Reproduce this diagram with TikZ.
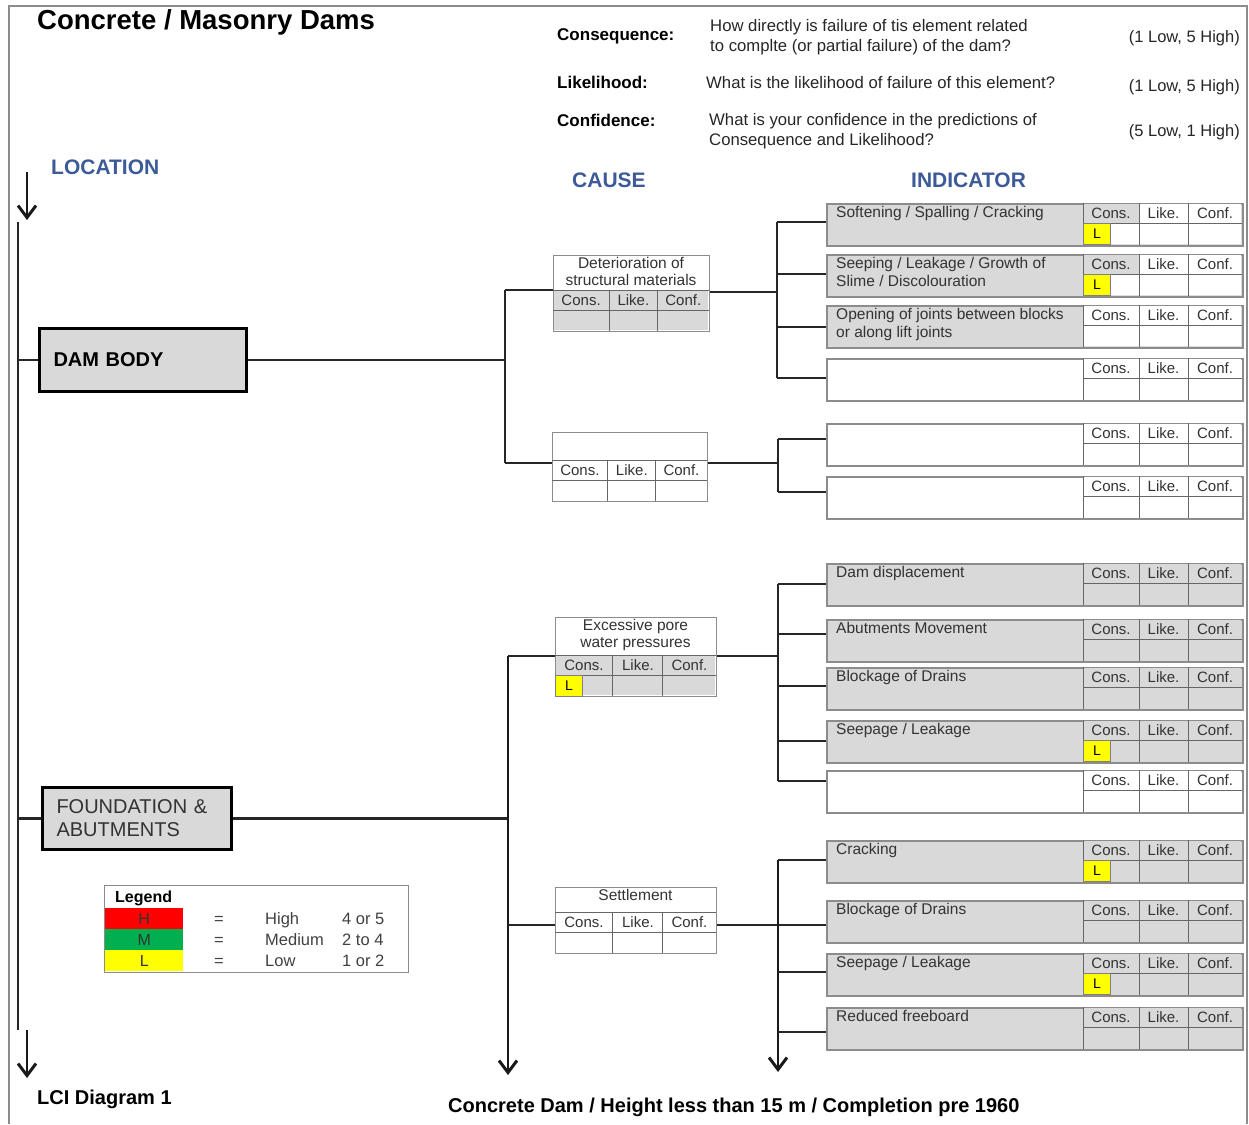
\documentclass[tikz,border=0pt]{standalone}
\usepackage{fontspec}
\setmainfont{Liberation Sans}
\usetikzlibrary{arrows.meta,positioning,calc}

\definecolor{boxgray}{HTML}{D9D9D9}
\definecolor{headblue}{HTML}{3D5A98}
\definecolor{framegray}{HTML}{8C8C8C}
\definecolor{lowyellow}{HTML}{FFFF00}
\definecolor{highred}{HTML}{FF0000}
\definecolor{medgreen}{HTML}{00B050}

\tikzset{
  conn/.style={line width=2.8pt,black!85},
  downarrow/.style={line width=2.8pt,black!90,-{Straight Barb[length=12pt,width=18pt,line width=3pt]}},
  cell/.style={line width=1pt,black!60},
  indbox/.style={draw=framegray,line width=1.5pt,anchor=north west,minimum width=416pt,minimum height=42pt,inner sep=0pt},
  indtext/.style={anchor=north west,inner sep=0pt,align=left,text=black!80,font=\fontsize{15.5}{18}\selectfont},
  hdr/.style={inner sep=0pt,text=black!80,font=\fontsize{15}{18}\selectfont},
  ctitle/.style={anchor=north,inner sep=0pt,align=center,text=black!80,font=\fontsize{15.5}{17}\selectfont},
  lowmark/.style={fill=lowyellow,draw=black!50,line width=0.8pt,anchor=north west,minimum width=27pt,minimum height=21pt,inner sep=0pt,font=\fontsize{14}{16}\selectfont},
  causebox/.style={draw=framegray,line width=1.2pt,fill=white,anchor=north west,inner sep=0pt},
  mainbox/.style={draw=black,line width=3pt,fill=boxgray,anchor=north west,inner xsep=14pt,inner ysep=0pt,align=left},
  heading/.style={anchor=base west,inner sep=0pt,text=headblue,font=\bfseries\fontsize{21}{24}\selectfont},
  keyword/.style={anchor=base west,inner sep=0pt,font=\bfseries\fontsize{17}{20}\selectfont},
  question/.style={anchor=west,inner sep=0pt,align=left,text=black!85,font=\fontsize{16.7}{20}\selectfont},
  rating/.style={anchor=base east,inner sep=0pt,text=black!85,font=\fontsize{16.5}{20}\selectfont},
  legtext/.style={anchor=base west,inner sep=0pt,text=black!75,font=\fontsize{16.5}{20}\selectfont}
}

% indicator box: name, top, text fill, cons. fill, cell fill, text
\newcommand{\indicator}[6]{%
  \begin{scope}[shift={(826,#2)}]
    \node[indbox,fill=#3] (#1) at (0,0) {};
    \fill[#4] (257,1) rectangle (313,20);
    \fill[#5] (313,1) rectangle (415,20) (257,20) rectangle (415,41);
    \draw[cell] (257,0) -- (257,42) (313,0) -- (313,42) (362,0) -- (362,42) (257,20) -- (416,20);
    \node[indtext] (#1-t) at (10,3) {#6};
    \foreach \x/\t [count=\i] in {285/Cons.,337.5/Like.,389/Conf.}
      \node[hdr] (#1-h\i) at (\x,10) {\t};
  \end{scope}}

% cause box: name, left, top, width, title height, title, header fill, value fill
\newcommand{\cause}[8]{%
  \begin{scope}[shift={(#2,#3)}]
    \node[causebox,minimum width=#4,minimum height=#5+41] (#1) at (0,0) {};
    \fill[#7] (1,#5) rectangle ({#4-1},{#5+20});
    \fill[#8] (1,{#5+20}) rectangle ({#4-1},{#5+40});
    \draw[cell] (0,#5) -- (#4,#5) (0,{#5+20}) -- (#4,{#5+20})
      ({0.36*#4},#5) -- ({0.36*#4},{#5+41}) ({0.67*#4},#5) -- ({0.67*#4},{#5+41});
    \node[ctitle] (#1-t) at ({#4/2},2) {#6};
    \foreach \f/\t [count=\i] in {0.18/Cons.,0.515/Like.,0.835/Conf.}
      \node[hdr] (#1-h\i) at ({\f*#4},{#5+10}) {\t};
  \end{scope}}

\newcommand{\lowmark}[1]{\node[lowmark] (#1-L) at ($(#1.north west)+(257,20)$) {L};}

\begin{document}
\begin{tikzpicture}[x=1pt,y=-1pt]
\useasboundingbox (0,0) rectangle (1249,1124);
\draw[framegray,line width=1.5pt] (9,1124) -- (9,6) -- (1247,6) -- (1247,1124);

% headings
\node[anchor=base west,inner sep=0pt,font=\bfseries\fontsize{27.5}{30}\selectfont] (title) at (37,30) {Concrete / Masonry Dams};
\node[keyword] (kcons) at (557,41) {Consequence:};
\node[question] (qcons) at (710,37.5) {How directly is failure of tis element related\\to complte (or partial failure) of the dam?};
\node[rating] (scons) at (1240,43) {(1 Low, 5 High)};
\node[keyword] (klike) at (557,88) {Likelihood:};
\node[question] (qlike) at (706,82.5) {What is the likelihood of failure of this element?};
\node[rating] (slike) at (1240,91) {(1 Low, 5 High)};
\node[keyword] (kconf) at (557,126) {Confidence:};
\node[question] (qconf) at (709,131.5) {What is your confidence in the predictions of\\Consequence and Likelihood?};
\node[rating] (sconf) at (1240,136) {(5 Low, 1 High)};

\node[heading] (location) at (51,174.5) {LOCATION};
\node[heading] (causehd) at (572,187.5) {CAUSE};
\node[heading] (indichd) at (911,187.5) {INDICATOR};

% location boxes
\node[mainbox,text width=179pt,minimum height=63pt,font=\bfseries\fontsize{20}{23}\selectfont] (dam) at (38,327) {DAM BODY};
\node[mainbox,text width=161pt,minimum height=62pt,text=black!80,font=\fontsize{20}{23}\selectfont] (found) at (41,786) {FOUNDATION \&\\ABUTMENTS};

% cause boxes
\cause{det}{553}{255}{156}{35}{Deterioration of\\structural materials}{boxgray}{boxgray}
\cause{other}{552}{432}{155}{28}{}{white}{white}
\cause{pore}{555}{617}{161}{38}{Excessive pore\\water pressures}{boxgray}{boxgray}
\node[lowmark] (pore-L) at ($(pore.north west)+(0,58)$) {L};
\cause{settle}{555}{887}{161}{25}{Settlement}{white}{white}

% indicator boxes
\indicator{soft}{203}{boxgray}{boxgray}{white}{Softening / Spalling / Cracking}
\lowmark{soft}
\indicator{seep}{254}{boxgray}{boxgray}{white}{Seeping / Leakage / Growth of\\Slime / Discolouration}
\lowmark{seep}
\indicator{joints}{305}{boxgray}{white}{white}{Opening of joints between blocks\\or along lift joints}
\indicator{blankA}{358}{white}{white}{white}{}
\indicator{blankB}{423}{white}{white}{white}{}
\indicator{blankC}{476}{white}{white}{white}{}
\indicator{disp}{563}{boxgray}{boxgray}{boxgray}{Dam displacement}
\indicator{abut}{619}{boxgray}{boxgray}{boxgray}{Abutments Movement}
\indicator{drainA}{667}{boxgray}{boxgray}{boxgray}{Blockage of Drains}
\indicator{leakA}{720}{boxgray}{boxgray}{boxgray}{Seepage / Leakage}
\lowmark{leakA}
\indicator{blankD}{770}{white}{white}{white}{}
\indicator{crack}{840}{boxgray}{boxgray}{boxgray}{Cracking}
\lowmark{crack}
\indicator{drainB}{900}{boxgray}{boxgray}{boxgray}{Blockage of Drains}
\indicator{leakB}{953}{boxgray}{boxgray}{boxgray}{Seepage / Leakage}
\lowmark{leakB}
\indicator{freeb}{1007}{boxgray}{boxgray}{boxgray}{Reduced freeboard}

% location spine
\coordinate (locA) at (27,172); \coordinate (locB) at (27,220);
\coordinate (spineT) at (18,222); \coordinate (spineB) at (18,1030);
\coordinate (endA) at (27,1030); \coordinate (endB) at (27,1078);
\draw[downarrow] (locA) -- (locB);
\draw[conn] (spineT) -- (spineB);
\draw[downarrow] (endA) -- (endB);
\draw[conn] (spineT |- dam.west) -- (dam.west);
\draw[conn] (spineT |- found.west) -- (found.west);

% dam body -> causes
\coordinate (ca1) at (505,290); \coordinate (ca2) at (505,463);
\draw[conn] (dam.east) -- (dam.east -| ca1);
\draw[conn] (ca1) -- (ca2);
\draw[conn] (ca1) -- (ca1 -| det.west);
\draw[conn] (ca2) -- (ca2 -| other.west);

% foundation -> causes
\coordinate (cb1) at (508,656); \coordinate (cb0) at (508,925); \coordinate (cb2) at (508,1075);
\draw[conn] (found.east) -- (found.east -| cb1);
\draw[downarrow] (cb1) -- (cb2);
\draw[conn] (cb1) -- (cb1 -| pore.west);
\draw[conn] (cb0) -- (cb0 -| settle.west);

% causes -> indicators
\coordinate (ia0) at (777,292); \coordinate (ia1) at (777,222); \coordinate (ia2) at (777,378);
\draw[conn] (det.east |- ia0) -- (ia0);
\draw[conn] (ia1) -- (ia2);
\foreach \n/\yy in {soft/222,seep/274,joints/327,blankA/378}
  \draw[conn] (777,\yy) -- (\n.west |- 0,\yy);

\coordinate (ib0) at (778,463); \coordinate (ib1) at (778,439); \coordinate (ib2) at (778,492);
\draw[conn] (other.east |- ib0) -- (ib0);
\draw[conn] (ib1) -- (ib2);
\foreach \n/\yy in {blankB/439,blankC/492}
  \draw[conn] (778,\yy) -- (\n.west |- 0,\yy);

\coordinate (ic0) at (778,656); \coordinate (ic1) at (778,584); \coordinate (ic2) at (778,781);
\draw[conn] (pore.east |- ic0) -- (ic0);
\draw[conn] (ic1) -- (ic2);
\foreach \n/\yy in {disp/584,abut/634,drainA/686,leakA/741,blankD/781}
  \draw[conn] (778,\yy) -- (\n.west |- 0,\yy);

\coordinate (id0) at (778,925); \coordinate (id1) at (778,860); \coordinate (id2) at (778,1072);
\draw[conn] (settle.east |- id0) -- (id0);
\draw[downarrow] (id1) -- (id2);
\foreach \n/\yy in {crack/860,drainB/925,leakB/972,freeb/1032}
  \draw[conn] (778,\yy) -- (\n.west |- 0,\yy);

% legend
\node[draw=framegray,line width=1pt,anchor=north west,minimum width=304pt,minimum height=87pt,inner sep=0pt] (legend) at (104,885) {};
\node[anchor=base west,inner sep=0pt,font=\bfseries\fontsize{16}{18}\selectfont] (legend-t) at (115,902) {Legend};
\foreach \c/\l/\w/\v/\yy [count=\i] in {highred/H/High/4 or 5/908,medgreen/M/Medium/2 to 4/929,lowyellow/L/Low/1 or 2/950} {
  \node[fill=\c,anchor=north west,minimum width=78pt,minimum height=21pt,inner sep=0pt,text=black!80,font=\fontsize{16}{18}\selectfont] (leg\i) at (105,\yy) {\l};
  \node[legtext] (leg\i-eq) at (214,{\yy+16}) {=};
  \node[legtext] (leg\i-w) at (265,{\yy+16}) {\w};
  \node[legtext] (leg\i-v) at (342,{\yy+16}) {\v};
}

% footer
\node[anchor=base west,inner sep=0pt,font=\bfseries\fontsize{20}{24}\selectfont] (diagram) at (37,1104) {LCI Diagram 1};
\node[anchor=base west,inner sep=0pt,font=\bfseries\fontsize{20}{24}\selectfont] (caption) at (448,1112) {Concrete Dam / Height less than 15 m / Completion pre 1960};
\end{tikzpicture}
\end{document}
